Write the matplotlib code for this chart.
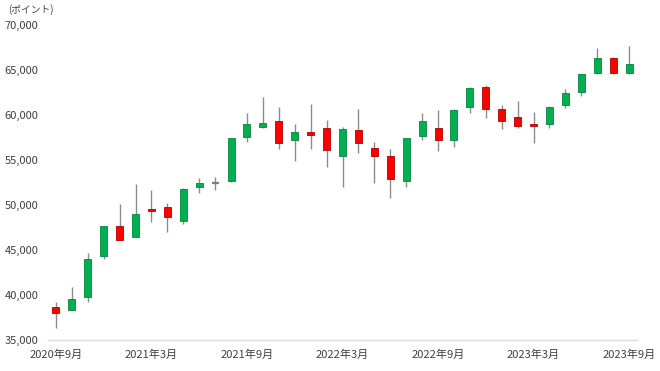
import matplotlib
matplotlib.use('Agg')
import matplotlib.pyplot as plt
import numpy as np

plt.rcParams['font.family'] = ['Noto Sans CJK JP', 'DejaVu Sans']

# monthly candles, 2020-09 .. 2023-09
months = ['2020年9月', '2020年10月', '2020年11月', '2020年12月', '2021年1月', '2021年2月',
          '2021年3月', '2021年4月', '2021年5月', '2021年6月', '2021年7月', '2021年8月',
          '2021年9月', '2021年10月', '2021年11月', '2021年12月', '2022年1月', '2022年2月',
          '2022年3月', '2022年4月', '2022年5月', '2022年6月', '2022年7月', '2022年8月',
          '2022年9月', '2022年10月', '2022年11月', '2022年12月', '2023年1月', '2023年2月',
          '2023年3月', '2023年4月', '2023年5月', '2023年6月', '2023年7月', '2023年8月',
          '2023年9月']
opens = [38670, 38290, 39780, 44300, 47630, 46480, 49560, 49740, 48190, 51970, 52480, 52700,
         57600, 58700, 59370, 57190, 58080, 58520, 55480, 58330, 56300, 55410, 52700, 57670,
         58520, 57220, 60860, 63150, 60700, 59810, 58960, 58960, 61080, 62520, 64630, 66300,
         64630]
highs = [39260, 40930, 44700, 47700, 50080, 52370, 51670, 50190, 51850, 52960, 53080, 57500,
         60190, 62040, 60860, 59000, 61220, 59440, 58700, 60700, 57040, 56220, 57500, 60190,
         60560, 60650, 63080, 63330, 61110, 61560, 60300, 61000, 62860, 64600, 67410, 66410,
         67700]
lows = [36370, 38290, 39220, 44000, 46100, 46400, 48080, 47030, 47890, 51300, 51670, 52600,
        57040, 58520, 56190, 54920, 56190, 54190, 52040, 55810, 52480, 50740, 51970, 57220,
        56000, 56480, 60190, 59630, 58440, 58590, 56920, 58590, 60780, 62140, 64600, 64600,
        64600]
closes = [38000, 39510, 44030, 47630, 46140, 48970, 49370, 48630, 51820, 52410, 52500, 57410,
          59000, 59150, 56930, 58080, 57800, 56080, 58410, 56920, 55410, 52860, 57410, 59370,
          57220, 60590, 62970, 60630, 59370, 58780, 58810, 60920, 62410, 64560, 66300, 64630,
          65630]
yticks = [35000, 40000, 45000, 50000, 55000, 60000, 65000, 70000]

fig = plt.figure(figsize=(6.6, 3.71), dpi=100)
ax = fig.add_axes([48/660, 31/371, 589/660, 315/371])

x = np.arange(len(months))
o = np.array(opens); c = np.array(closes)
up = c >= o
body_lo = np.minimum(o, c)
body_h = np.abs(c - o)

ax.vlines(x, lows, highs, color='#8c8c8c', lw=1, zorder=1)
for i in range(len(x)):
    if body_h[i] < 150:
        # doji: just a short line
        ax.hlines(c[i], x[i]-0.22, x[i]+0.22, color='#c00000' if not up[i] else '#7f7f7f', lw=1.6, zorder=2)
        continue
    fc = '#00B050' if up[i] else '#FF0000'
    ec = '#08843f' if up[i] else '#b00000'
    ax.bar(x[i], body_h[i], bottom=body_lo[i], width=0.44, color=fc, edgecolor=ec, lw=0.6, zorder=2)

ax.set_xlim(-0.5, len(months) - 0.5)
ax.set_ylim(35000, 70000)
ax.set_yticks(yticks)
ax.set_yticklabels([f'{v:,}' for v in yticks])
ticks = x[::6]
ax.set_xticks(ticks)
ax.set_xticklabels([months[i] for i in ticks])

for s in ['top', 'right', 'left']:
    ax.spines[s].set_visible(False)
ax.spines['bottom'].set_color('#d9d9d9')
ax.spines['bottom'].set_linewidth(1)
ax.tick_params(axis='both', length=0, labelsize=8, colors='#404040')
ax.tick_params(axis='y', pad=7)
ax.tick_params(axis='x', pad=7)

fig.text(8/660, 1 - 10/371, '(ポイント)', fontsize=7, color='#404040', va='center', ha='left')

fig.savefig('out.png', dpi=100, facecolor='white')
